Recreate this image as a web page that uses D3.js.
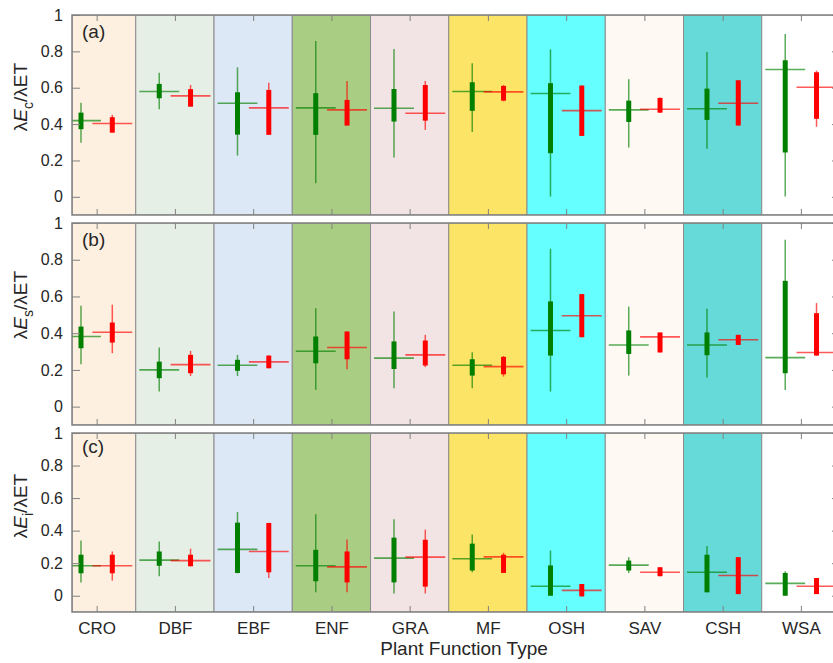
<!DOCTYPE html>
<html>
<head>
<meta charset="utf-8">
<script src="https://cdn.jsdelivr.net/npm/d3@7"></script>
<style>
  body { margin: 0; background: #fff; }
  svg { display: block; font-family: "Liberation Sans", Arial, sans-serif; }
</style>
</head>
<body>
<svg id="chart" width="833" height="663"></svg>
<script>
// categories and band colours
const categories = ["CRO", "DBF", "EBF", "ENF", "GRA", "MF", "OSH", "SAV", "CSH", "WSA"];
const bandColors = ["#fdf0e0", "#e6efe6", "#dde8f7", "#a9cd83", "#f2e4e4",
                    "#fce566", "#66ffff", "#fef9f3", "#66d9d9", "#ffffff"];
const yTicks = [0, 0.2, 0.4, 0.6, 0.8, 1];

// each entry: [lo, q1, median, q3, hi]
const ecGreen = [
  [0.298, 0.372, 0.419, 0.463, 0.518],
  [0.482, 0.542, 0.579, 0.621, 0.683],
  [0.227, 0.342, 0.515, 0.575, 0.712],
  [0.075, 0.341, 0.489, 0.570, 0.857],
  [0.216, 0.414, 0.487, 0.593, 0.813],
  [0.357, 0.473, 0.579, 0.630, 0.734],
  [0.002, 0.240, 0.568, 0.625, 0.811],
  [0.271, 0.412, 0.478, 0.529, 0.647],
  [0.264, 0.423, 0.484, 0.595, 0.797],
  [0.002, 0.244, 0.700, 0.751, 0.896]
];
const ecRed = [
  [0.353, 0.353, 0.403, 0.438, 0.451],
  [0.496, 0.496, 0.555, 0.592, 0.615],
  [0.341, 0.341, 0.489, 0.588, 0.628],
  [0.392, 0.392, 0.478, 0.533, 0.637],
  [0.368, 0.419, 0.460, 0.615, 0.637],
  [0.525, 0.529, 0.577, 0.610, 0.615],
  [0.335, 0.335, 0.474, 0.612, 0.612],
  [0.461, 0.463, 0.482, 0.544, 0.546],
  [0.392, 0.392, 0.515, 0.641, 0.641],
  [0.385, 0.429, 0.603, 0.685, 0.694]
];
const esGreen = [
  [0.231, 0.318, 0.382, 0.436, 0.549],
  [0.082, 0.155, 0.200, 0.245, 0.322],
  [0.167, 0.195, 0.225, 0.255, 0.282],
  [0.091, 0.236, 0.302, 0.382, 0.536],
  [0.100, 0.205, 0.264, 0.355, 0.518],
  [0.100, 0.169, 0.225, 0.258, 0.296],
  [0.082, 0.278, 0.415, 0.573, 0.860],
  [0.169, 0.287, 0.336, 0.415, 0.545],
  [0.158, 0.280, 0.336, 0.404, 0.533],
  [0.091, 0.182, 0.267, 0.685, 0.909]
];
const esRed = [
  [0.291, 0.349, 0.405, 0.458, 0.555],
  [0.167, 0.182, 0.229, 0.282, 0.304],
  [0.209, 0.209, 0.244, 0.278, 0.278],
  [0.204, 0.258, 0.322, 0.409, 0.409],
  [0.215, 0.224, 0.282, 0.360, 0.391],
  [0.164, 0.176, 0.218, 0.271, 0.276],
  [0.378, 0.378, 0.495, 0.613, 0.613],
  [0.295, 0.295, 0.380, 0.404, 0.404],
  [0.336, 0.336, 0.364, 0.391, 0.391],
  [0.278, 0.278, 0.295, 0.509, 0.564]
];
const eiGreen = [
  [0.082, 0.138, 0.184, 0.252, 0.340],
  [0.120, 0.184, 0.219, 0.272, 0.334],
  [0.138, 0.140, 0.285, 0.449, 0.515],
  [0.021, 0.089, 0.184, 0.282, 0.501],
  [0.014, 0.082, 0.231, 0.357, 0.470],
  [0.144, 0.155, 0.227, 0.320, 0.377],
  [0.000, 0.000, 0.058, 0.186, 0.278],
  [0.140, 0.155, 0.188, 0.216, 0.237],
  [0.021, 0.021, 0.144, 0.252, 0.305],
  [0.000, 0.000, 0.076, 0.140, 0.150]
];
const eiRed = [
  [0.093, 0.138, 0.184, 0.252, 0.272],
  [0.181, 0.181, 0.216, 0.252, 0.289],
  [0.109, 0.144, 0.272, 0.447, 0.449],
  [0.021, 0.082, 0.177, 0.272, 0.346],
  [0.014, 0.056, 0.237, 0.344, 0.406],
  [0.140, 0.140, 0.239, 0.252, 0.264],
  [-0.004, -0.004, 0.033, 0.072, 0.072],
  [0.120, 0.120, 0.144, 0.175, 0.175],
  [0.010, 0.010, 0.124, 0.237, 0.237],
  [0.010, 0.010, 0.058, 0.109, 0.109]
];

const panels = [
  { tag: "(a)", sub: "c", green: ecGreen, red: ecRed, top: 15,  bottom: 215, labelY: 97 },
  { tag: "(b)", sub: "s", green: esGreen, red: esRed, top: 223, bottom: 425, labelY: 305 },
  { tag: "(c)", sub: "i", green: eiGreen, red: eiRed, top: 433, bottom: 612, labelY: 506 }
];

const svg = d3.select("#chart");
const left = 72, right = 840;
const x = d3.scaleLinear().domain([0.685, 10.5]).range([left, right]);
const textColor = "#262626", axisColor = "#808080";
const greenColor = "#007f00", redColor = "#ff0000";
const offset = 0.2, halfMed = 0.255, boxW = 5;

panels.forEach((p, pi) => {
  const y = d3.scaleLinear().domain([-0.1, 1]).range([p.bottom, p.top]);
  const g = svg.append("g");

  g.append("clipPath").attr("id", "clip" + pi)
    .append("rect").attr("x", left).attr("y", p.top)
    .attr("width", right - left).attr("height", p.bottom - p.top);

  const body = g.append("g").attr("clip-path", `url(#clip${pi})`);

  // coloured bands per plant type
  body.selectAll("rect.band").data(categories).enter().append("rect")
    .attr("class", "band")
    .attr("x", (d, i) => x(Math.max(i + 0.5, 0.685)))
    .attr("width", (d, i) => x(i + 1.5) - x(Math.max(i + 0.5, 0.685)))
    .attr("y", p.top).attr("height", p.bottom - p.top)
    .attr("fill", (d, i) => bandColors[i])
    .attr("stroke", "#8c8c8c").attr("stroke-width", 1);

  // box elements
  const series = [
    { data: p.green, dx: -offset, color: greenColor },
    { data: p.red, dx: offset, color: redColor }
  ];
  series.forEach(s => {
    const sg = body.append("g");
    const cx = i => x(i + 1 + s.dx);
    sg.selectAll("line.wh").data(s.data).enter().append("line")
      .attr("x1", (d, i) => cx(i)).attr("x2", (d, i) => cx(i))
      .attr("y1", d => y(d[0])).attr("y2", d => y(d[4]))
      .attr("stroke", s.color).attr("stroke-width", 1.5).attr("stroke-opacity", 0.65);
    sg.selectAll("line.md").data(s.data).enter().append("line")
      .attr("x1", (d, i) => x(i + 1 + s.dx - halfMed)).attr("x2", (d, i) => x(i + 1 + s.dx + halfMed))
      .attr("y1", d => y(d[2])).attr("y2", d => y(d[2]))
      .attr("stroke", s.color).attr("stroke-width", 1.6).attr("stroke-opacity", 0.65);
    sg.selectAll("rect.bx").data(s.data).enter().append("rect")
      .attr("x", (d, i) => cx(i) - boxW / 2).attr("width", boxW)
      .attr("y", d => y(d[3])).attr("height", d => Math.max(1, y(d[1]) - y(d[3])))
      .attr("fill", s.color);
  });

  // axes (ticks pointing inward)
  const styleAxis = (sel, size) => {
    sel.select(".domain").remove();
    sel.selectAll(".tick line").attr("stroke", axisColor).attr("stroke-width", 1);
    sel.selectAll("text").attr("fill", textColor).attr("font-size", size)
      .attr("font-family", "Liberation Sans, Arial, sans-serif");
  };
  g.append("g").attr("transform", `translate(${left},0)`)
    .call(d3.axisLeft(y).tickValues(yTicks).tickSize(-8).tickPadding(9).tickFormat(d3.format("~g")))
    .call(styleAxis, 16);
  g.append("g").attr("transform", `translate(${right},0)`)
    .call(d3.axisRight(y).tickValues(yTicks).tickSize(-8).tickFormat(""))
    .call(styleAxis, 16);
  g.append("g").attr("transform", `translate(0,${p.top})`)
    .call(d3.axisTop(x).tickValues(d3.range(1, 11)).tickSize(-6).tickFormat(""))
    .call(styleAxis, 16);
  g.append("g").attr("transform", `translate(0,${p.bottom})`)
    .call(d3.axisBottom(x).tickValues(d3.range(1, 11)).tickSize(-6).tickPadding(10)
      .tickFormat(pi === 2 ? (d => categories[d - 1]) : ""))
    .call(styleAxis, 17);

  g.append("rect").attr("x", left).attr("y", p.top)
    .attr("width", right - left).attr("height", p.bottom - p.top)
    .attr("fill", "none").attr("stroke", axisColor).attr("stroke-width", 1.5);

  // panel tag
  g.append("text").attr("x", 82).attr("y", y(0.875))
    .attr("font-size", 19).attr("fill", textColor).text(p.tag);

  // y label
  const yl = g.append("text")
    .attr("transform", `translate(27,${p.labelY}) rotate(-90)`)
    .attr("text-anchor", "middle").attr("font-size", 19).attr("fill", textColor);
  yl.append("tspan").text("λ");
  yl.append("tspan").attr("font-style", "italic").text("E");
  yl.append("tspan").attr("font-size", 14).attr("dy", 6).text(p.sub);
  yl.append("tspan").attr("dy", -6).text("/λET");
});

svg.append("text").attr("x", 464).attr("y", 655)
  .attr("text-anchor", "middle").attr("font-size", 19).attr("fill", textColor)
  .text("Plant Function Type");
</script>
</body>
</html>
